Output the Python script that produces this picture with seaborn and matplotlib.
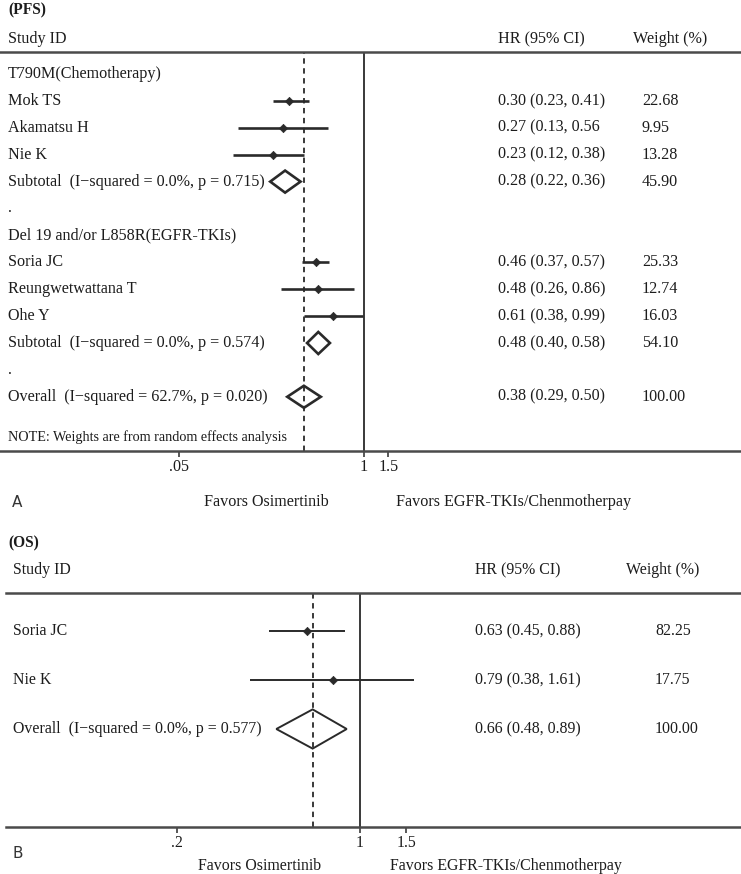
import numpy as np
import pandas as pd
import matplotlib
matplotlib.use("Agg")
import matplotlib.pyplot as plt
import matplotlib.transforms as mtransforms
from matplotlib.ticker import FixedLocator, FixedFormatter, NullLocator
import seaborn as sns

# ---------------------------------------------------------
# Data: (PFS) panel
# ---------------------------------------------------------
pfs_labels = ["T790M(Chemotherapy)", "Mok TS", "Akamatsu H", "Nie K",
              "Subtotal  (I\u2212squared = 0.0%, p = 0.715)", ".",
              "Del 19 and/or L858R(EGFR-TKIs)", "Soria JC", "Reungwetwattana T", "Ohe Y",
              "Subtotal  (I\u2212squared = 0.0%, p = 0.574)", ".",
              "Overall  (I\u2212squared = 62.7%, p = 0.020)"]
pfs_kind = ["group", "study", "study", "study", "pooled", "blank",
            "group", "study", "study", "study", "pooled", "blank", "pooled"]
pfs_hr = [np.nan, 0.30, 0.27, 0.23, 0.28, np.nan, np.nan, 0.46, 0.48, 0.61, 0.48, np.nan, 0.38]
pfs_lo = [np.nan, 0.23, 0.13, 0.12, 0.22, np.nan, np.nan, 0.37, 0.26, 0.38, 0.40, np.nan, 0.29]
pfs_hi = [np.nan, 0.41, 0.56, 0.38, 0.36, np.nan, np.nan, 0.57, 0.86, 0.99, 0.58, np.nan, 0.50]
pfs_ci_text = ["", "0.30 (0.23, 0.41)", "0.27 (0.13, 0.56", "0.23 (0.12, 0.38)", "0.28 (0.22, 0.36)", "",
               "", "0.46 (0.37, 0.57)", "0.48 (0.26, 0.86)", "0.61 (0.38, 0.99)", "0.48 (0.40, 0.58)", "",
               "0.38 (0.29, 0.50)"]
pfs_weight = ["", "22.68", "9.95", "13.28", "45.90", "", "", "25.33", "12.74", "16.03", "54.10", "", "100.00"]
pfs_ticks = [0.05, 1, 1.5]
pfs_tick_labels = [".05", "1", "1.5"]

# ---------------------------------------------------------
# Data: (OS) panel
# ---------------------------------------------------------
os_labels = ["Soria JC", "Nie K", "Overall  (I\u2212squared = 0.0%, p = 0.577)"]
os_kind = ["study", "study", "pooled"]
os_hr = [0.63, 0.79, 0.66]
os_lo = [0.45, 0.38, 0.48]
os_hi = [0.88, 1.61, 0.89]
os_ci_text = ["0.63 (0.45, 0.88)", "0.79 (0.38, 1.61)", "0.66 (0.48, 0.89)"]
os_weight = ["82.25", "17.75", "100.00"]
os_ticks = [0.2, 1, 1.5]
os_tick_labels = [".2", "1", "1.5"]

W, H = 741, 874
TXT = "#1c1c1c"
LN = "#2a2a2a"
FS_A = 11.6
FS_B = 11.4

sns.set_theme(style="white")
plt.rcParams['font.family'] = ['Liberation Serif', 'DejaVu Serif']

fig = plt.figure(figsize=(W / 100, H / 100), dpi=100)
fig.patch.set_facecolor("white")


def fx(px):
    return px / W


def fy(py):
    return 1 - py / H


def draw_panel(ax, df, pooled_line, ticks, tick_labels, row_top, row_bottom,
               x_label, x_ci, x_wt, fs, lw, dia_h, note=None):
    ax.set_xscale("log")
    trans = mtransforms.blended_transform_factory(fig.transFigure, ax.transData)

    studies = df[df["kind"] == "study"]
    ax.hlines(studies["row"], studies["lo"], studies["hi"], color=LN, lw=lw, zorder=2)
    sns.scatterplot(data=studies, x="hr", y="row", marker="D", color=LN, s=18,
                    edgecolor=LN, linewidth=0.5, legend=False, ax=ax, zorder=3)

    # pooled estimates as hollow diamonds
    for _, r in df[df["kind"] == "pooled"].iterrows():
        ax.fill([r["lo"], r["hr"], r["hi"], r["hr"]],
                [r["row"], r["row"] - dia_h, r["row"], r["row"] + dia_h],
                facecolor="none", edgecolor=LN, lw=lw, zorder=3, joinstyle="miter")

    ax.axvline(1, color=LN, lw=1.3, zorder=1)
    ax.axvline(pooled_line, color=LN, lw=1.3, ls=(0, (3, 2.5)), zorder=1)

    for _, r in df.iterrows():
        ax.text(x_label, r["row"], r["label"], transform=trans, ha="left", va="center",
                fontsize=fs, color=TXT)
        ax.text(x_ci, r["row"], r["ci"], transform=trans, ha="left", va="center",
                fontsize=fs, color=TXT)
        ax.text(x_wt, r["row"], r["weight"], transform=trans, ha="left", va="center",
                fontsize=fs, color=TXT)
    if note is not None:
        ax.text(x_label, note[0], note[1], transform=trans, ha="left", va="center",
                fontsize=10.2, color=TXT)

    ax.set_ylim(row_bottom, row_top)
    ax.set_yticks([])
    ax.set_xlabel("")
    ax.set_ylabel("")
    ax.xaxis.set_major_locator(FixedLocator(ticks))
    ax.xaxis.set_major_formatter(FixedFormatter(tick_labels))
    ax.xaxis.set_minor_locator(NullLocator())
    ax.tick_params(axis="x", direction="out", length=4, width=1.1, color=LN,
                   labelsize=fs, labelcolor=TXT, pad=1.5, bottom=True)
    for s in ["left", "right"]:
        ax.spines[s].set_visible(False)
    for s in ["top", "bottom"]:
        ax.spines[s].set_visible(True)
        ax.spines[s].set_color("#4a4a4a")
        ax.spines[s].set_linewidth(1.8)
    ax.set_facecolor("none")


# ---------------------------------------------------------
# Panel A (PFS)
# ---------------------------------------------------------
pfs = pd.DataFrame({"label": pfs_labels, "kind": pfs_kind, "hr": pfs_hr, "lo": pfs_lo,
                    "hi": pfs_hi, "ci": pfs_ci_text, "weight": pfs_weight})
pfs["row"] = np.arange(len(pfs))

a_top, a_bot, a_left, a_right = 52, 451, 0, 741
ax_a = fig.add_axes([fx(a_left), fy(a_bot), fx(a_right - a_left), (a_bot - a_top) / H])
a_one, a_scale = 363.5, 61.6
ax_a.set_xlim(np.exp((a_left - a_one) / a_scale), np.exp((a_right - a_one) / a_scale))
a_row0, a_step = 74, 26.9
draw_panel(ax_a, pfs, 0.38, pfs_ticks, pfs_tick_labels,
           (a_top - a_row0) / a_step, (a_bot - a_row0) / a_step,
           fx(8), fx(498), fx(642), FS_A, 1.9, 0.41,
           note=((437 - a_row0) / a_step, "NOTE: Weights are from random effects analysis"))

fig.text(fx(8), fy(10), "(PFS)", fontsize=11.2, fontweight="bold", color=TXT, va="center")
fig.text(fx(8), fy(39), "Study ID", fontsize=FS_A, color=TXT, va="center")
fig.text(fx(498), fy(39), "HR (95% CI)", fontsize=FS_A, color=TXT, va="center")
fig.text(fx(633), fy(39), "Weight (%)", fontsize=FS_A, color=TXT, va="center")
fig.text(fx(12), fy(502), "A", fontsize=11, color="#333333", va="center", family="DejaVu Sans")
fig.text(fx(204), fy(502), "Favors Osimertinib", fontsize=FS_A, color=TXT, va="center")
fig.text(fx(396), fy(502), "Favors EGFR-TKIs/Chenmotherpay", fontsize=FS_A, color=TXT, va="center")

# ---------------------------------------------------------
# Panel B (OS)
# ---------------------------------------------------------
osd = pd.DataFrame({"label": os_labels, "kind": os_kind, "hr": os_hr, "lo": os_lo,
                    "hi": os_hi, "ci": os_ci_text, "weight": os_weight})
osd["row"] = np.arange(len(osd))

b_top, b_bot, b_left, b_right = 593, 827, 6, 741
ax_b = fig.add_axes([fx(b_left), fy(b_bot), fx(b_right - b_left), (b_bot - b_top) / H])
b_one, b_scale = 360, 114
ax_b.set_xlim(np.exp((b_left - b_one) / b_scale), np.exp((b_right - b_one) / b_scale))
b_row0, b_step = 631, 49
draw_panel(ax_b, osd, 0.66, os_ticks, os_tick_labels,
           (b_top - b_row0) / b_step, (b_bot - b_row0) / b_step,
           fx(13), fx(475), fx(655), FS_B, 1.4, 0.4)

fig.text(fx(8), fy(543), "(OS)", fontsize=11.2, fontweight="bold", color=TXT, va="center")
fig.text(fx(13), fy(570), "Study ID", fontsize=FS_B, color=TXT, va="center")
fig.text(fx(475), fy(570), "HR (95% CI)", fontsize=FS_B, color=TXT, va="center")
fig.text(fx(626), fy(570), "Weight (%)", fontsize=FS_B, color=TXT, va="center")
fig.text(fx(12), fy(853), "B", fontsize=11, color="#333333", va="center", family="DejaVu Sans")
fig.text(fx(198), fy(866), "Favors Osimertinib", fontsize=FS_B, color=TXT, va="center")
fig.text(fx(390), fy(866), "Favors EGFR-TKIs/Chenmotherpay", fontsize=FS_B, color=TXT, va="center")

fig.savefig("out.png", dpi=100, facecolor="white")
